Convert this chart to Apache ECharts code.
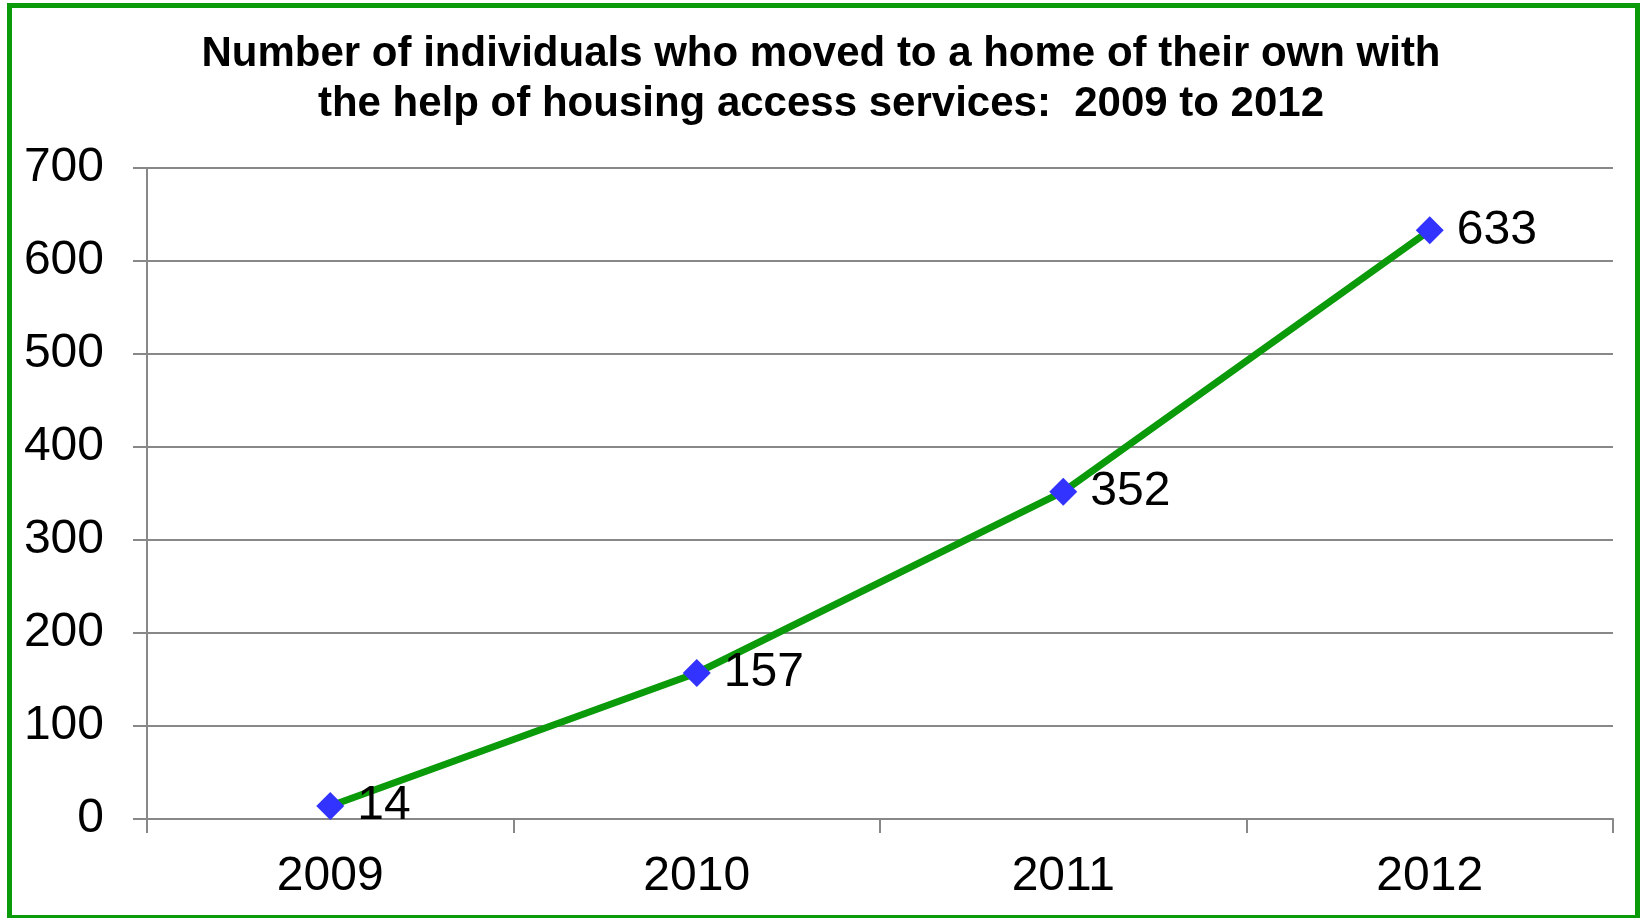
<!DOCTYPE html>
<html>
<head>
<meta charset="utf-8">
<style>
  html, body { margin: 0; padding: 0; background: #fff; }
  #chart { width: 1642px; height: 918px; }
</style>
<script src="https://cdn.jsdelivr.net/npm/echarts@6/dist/echarts.min.js"></script>
</head>
<body>
<div id="chart"></div>
<script>
const years = ['2009', '2010', '2011', '2012']
const movedHome = [14, 157, 352, 633]
const yTicks = [0, 100, 200, 300, 400, 500, 600, 700]

const font = '"Liberation Sans", Arial, sans-serif'
const grey = '#888888'

const chart = echarts.init(document.getElementById('chart'))
chart.setOption({
  backgroundColor: '#fff',
  animation: false,
  title: {
    text: 'Number of individuals who moved to a home of their own with\nthe help of housing access services:  2009 to 2012',
    left: 'center',
    top: 24,
    textStyle: {
      fontFamily: font,
      fontWeight: 'bold',
      fontSize: 42,
      lineHeight: 50,
      color: '#000'
    }
  },
  graphic: [
    {
      type: 'rect',
      shape: { x: 9.5, y: 5.5, width: 1628, height: 912 },
      style: { fill: 'none', stroke: '#0a9a0a', lineWidth: 5 },
      z: 100
    }
  ],
  grid: {
    left: 147,
    right: 29,
    top: 168,
    bottom: 99,
    containLabel: false
  },
  xAxis: {
    type: 'category',
    data: years,
    boundaryGap: true,
    axisLine: { lineStyle: { color: grey, width: 2 } },
    axisTick: { show: true, length: 14, alignWithLabel: false, lineStyle: { color: grey, width: 2 } },
    axisLabel: { fontFamily: font, fontSize: 48, color: '#000', margin: 34 }
  },
  yAxis: {
    type: 'value',
    min: yTicks[0],
    max: yTicks[yTicks.length - 1],
    interval: 100,
    axisLine: { show: true, lineStyle: { color: grey, width: 2 } },
    axisTick: { show: true, length: 14, lineStyle: { color: grey, width: 2 } },
    splitLine: { show: true, lineStyle: { color: grey, width: 2 } },
    axisLabel: { fontFamily: font, fontSize: 48, color: '#000', margin: 43 }
  },
  series: [
    {
      type: 'line',
      data: movedHome,
      symbol: 'diamond',
      symbolSize: 28,
      lineStyle: { color: '#0a9a0a', width: 7 },
      itemStyle: { color: '#3333ff' },
      label: {
        show: true,
        position: 'right',
        distance: 13,
        fontFamily: font,
        fontSize: 48,
        color: '#000'
      }
    }
  ]
})
</script>
</body>
</html>
